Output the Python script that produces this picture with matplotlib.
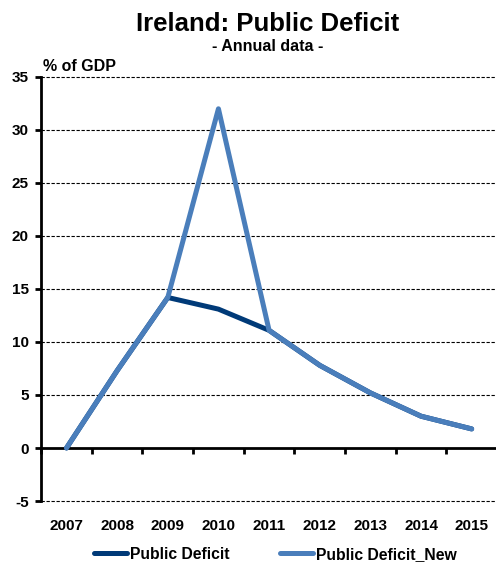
import matplotlib.pyplot as plt
import numpy as np

plt.rcParams['font.family'] = ['Liberation Sans', 'DejaVu Sans']
plt.rcParams['font.weight'] = 'bold'

years = ['2007', '2008', '2009', '2010', '2011', '2012', '2013', '2014', '2015']
deficit = [0.0, 7.3, 14.2, 13.1, 11.1, 7.8, 5.2, 3.0, 1.8]
deficit_new = [0.0, 7.3, 14.2, 32.0, 11.1, 7.8, 5.2, 3.0, 1.8]
y_ticks = [-5, 0, 5, 10, 15, 20, 25, 30, 35]

dark = '#003A78'
light = '#4A7EBB'

fig = plt.figure(figsize=(4.96, 5.69), dpi=100)
ax = fig.add_axes([0.083, 0.1195, 0.919, 0.7452])

x = np.arange(len(years))
ax.plot(x, deficit, color=dark, lw=3.6, solid_capstyle='round',
        solid_joinstyle='round', label='Public Deficit', zorder=3)
ax.plot(x, deficit_new, color=light, lw=3.6, solid_capstyle='round',
        solid_joinstyle='round', label='Public Deficit_New', zorder=4)

ax.set_xlim(-0.5, len(years) - 0.5)
ax.set_ylim(-5, 35)
ax.set_yticks(y_ticks)
ax.set_yticklabels([str(v) for v in y_ticks], fontsize=11, fontweight='bold')

# dashed grid at every level except the zero line
for v in y_ticks:
    if v != 0:
        ax.axhline(v, color='black', lw=0.8, ls=(0, (3, 1.5)), zorder=1,
                   clip_on=False)

for side in ['top', 'right']:
    ax.spines[side].set_visible(False)
ax.spines['left'].set_linewidth(2)
ax.spines['bottom'].set_position(('data', 0))
ax.spines['bottom'].set_linewidth(2)

# category boundary ticks on the zero line
ax.set_xticks(np.arange(len(years) + 1) - 0.5)
ax.tick_params(axis='x', direction='out', length=4, width=2,
               labelbottom=False)
ax.tick_params(axis='y', direction='out', length=4, width=2, pad=5)

# year labels along the bottom edge
sec = ax.secondary_xaxis('bottom')
sec.set_xticks(x)
sec.set_xticklabels(years, fontsize=11, fontweight='bold')
sec.tick_params(length=0, pad=13)
sec.spines['bottom'].set_visible(False)

fig.text(0.54, 0.957, 'Ireland: Public Deficit', ha='center', va='center',
         fontsize=18.5, fontweight='bold')
fig.text(0.54, 0.919, '- Annual data -', ha='center', va='center',
         fontsize=11.5, fontweight='bold')
fig.text(0.087, 0.883, '% of GDP', ha='left', va='center',
         fontsize=11.5, fontweight='bold')

fig.legend(loc='lower center', bbox_to_anchor=(0.555, -0.012), ncol=2,
           frameon=False, handlelength=2.1, columnspacing=3.2,
           handletextpad=0.2, prop={'weight': 'bold', 'size': 11.3})

fig.savefig('out.png', dpi=100)
